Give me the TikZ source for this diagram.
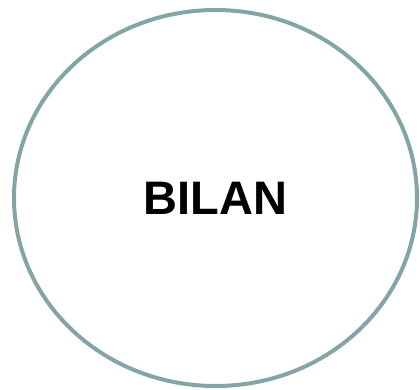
\documentclass[tikz,border=0pt]{standalone}
\usepackage{fontspec}
\setmainfont{Liberation Sans}
\usetikzlibrary{shapes.geometric}
\definecolor{ringgray}{RGB}{133,164,166}
\begin{document}
\begin{tikzpicture}[x=1pt,y=-1pt]
  \tikzset{
    ring/.style={ellipse,draw=ringgray,line width=4pt,minimum width=403pt,
                 minimum height=376pt,inner sep=0pt,font=\fontsize{47}{50}\selectfont\bfseries}
  }
  \useasboundingbox (0,0) rectangle (420,389);
  \node[ring] (bilan) at (215.5,198) {BILAN};
\end{tikzpicture}
\end{document}
